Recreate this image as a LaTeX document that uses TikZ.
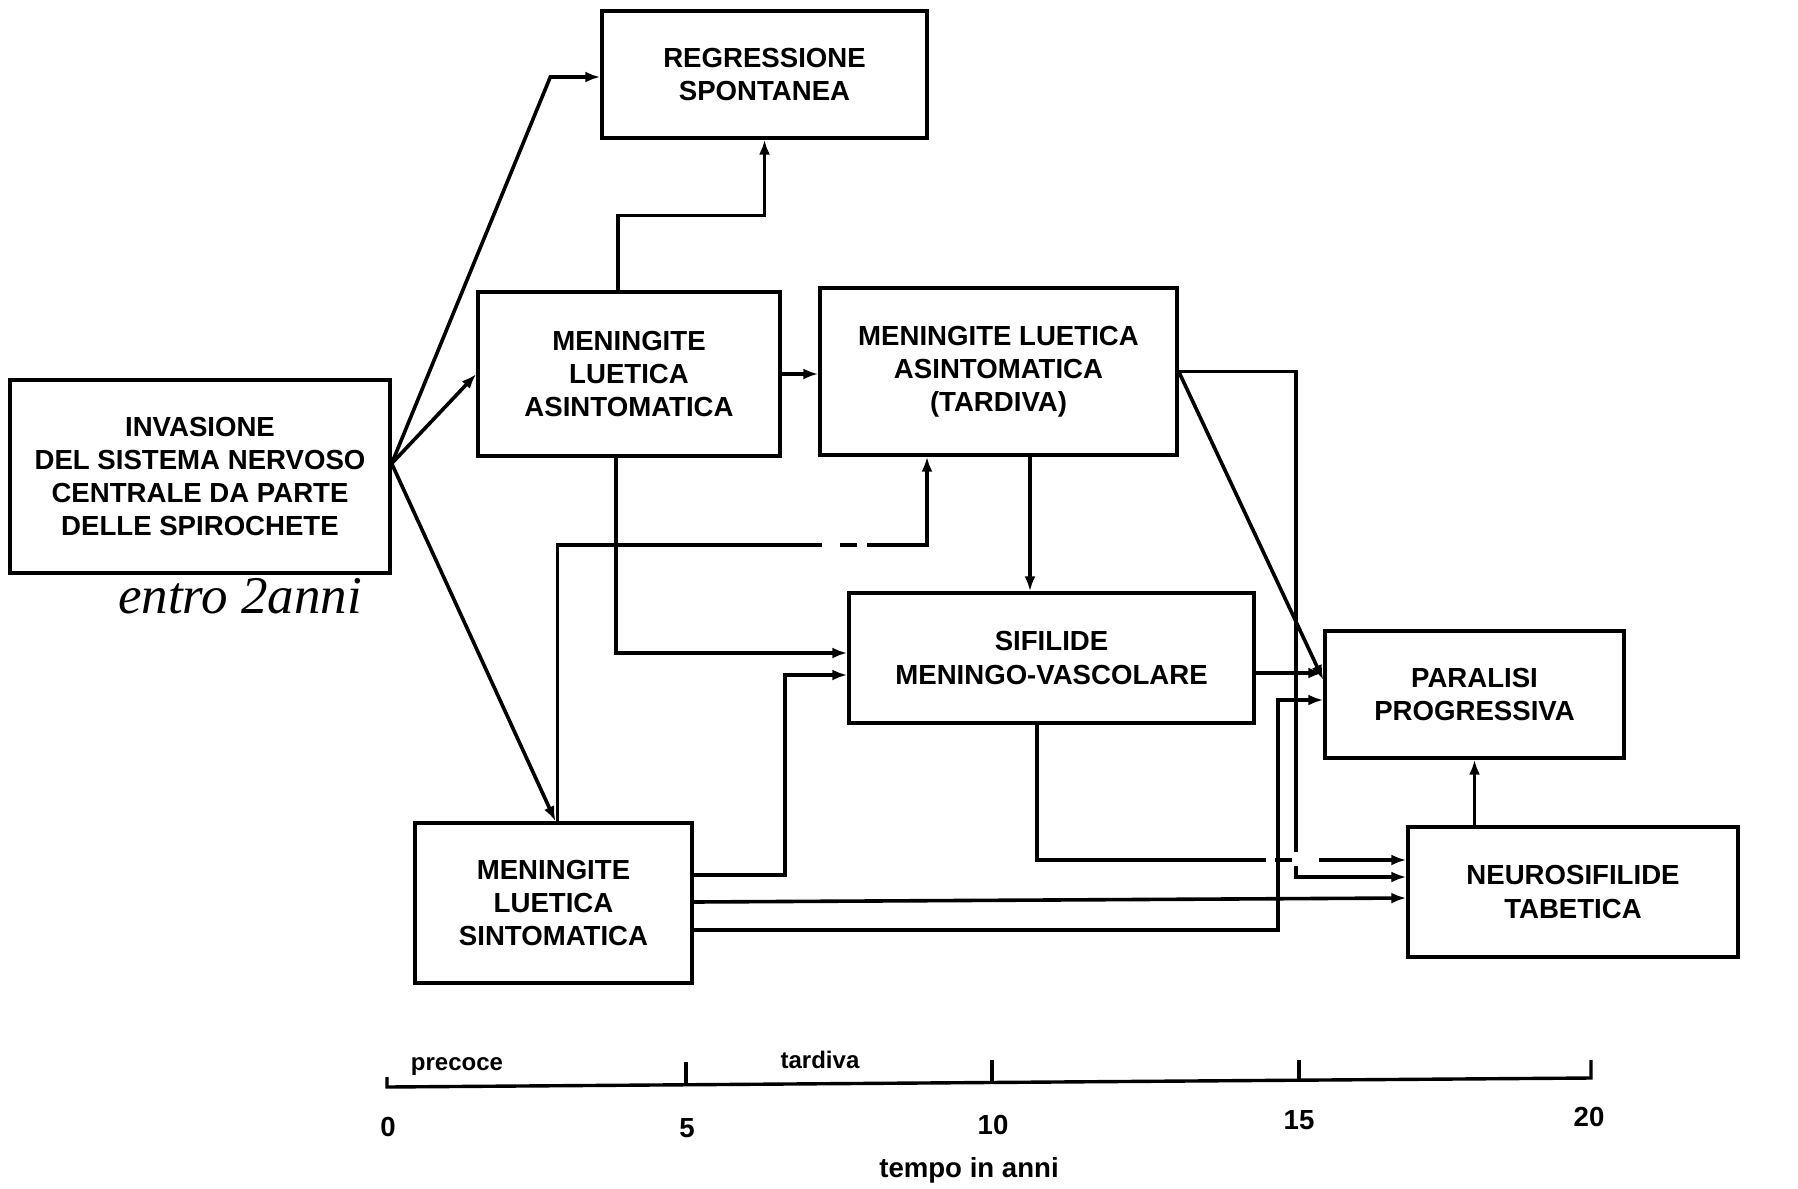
\documentclass[tikz,border=0pt]{standalone}
\usepackage{fontspec}
\setmainfont{Liberation Sans}
\newfontfamily\handfont{Liberation Serif}
\usetikzlibrary{arrows.meta,calc}
\begin{document}
\begin{tikzpicture}[x=0.5pt,y=-0.5pt,
  box/.style={draw, line width=1.7pt, rectangle, inner sep=0pt, align=center,
    font=\fontsize{13.8}{16.6}\selectfont\bfseries},
  conn/.style={line width=1.8pt, -{Latex[length=7.5pt,width=5.5pt]}},
  axis/.style={line width=1.7pt},
  axlab/.style={font=\fontsize{13.8}{15}\selectfont\bfseries, inner sep=0pt},
  small/.style={font=\fontsize{12}{14}\selectfont\bfseries, inner sep=0pt},
  gap/.style={fill=white, draw=none}]
\useasboundingbox[fill=white] (0,0) rectangle (1798,1188);

% boxes
\node[box, minimum width=190pt, minimum height=96.5pt] (inv) at (200,476.5)
  {INVASIONE\\DEL SISTEMA NERVOSO\\CENTRALE DA PARTE\\DELLE SPIROCHETE};
\node[box, minimum width=162.5pt, minimum height=63.5pt] (reg) at (764.5,74.5)
  {REGRESSIONE\\SPONTANEA};
\node[box, minimum width=151pt, minimum height=82pt] (mla) at (629,374)
  {MENINGITE\\LUETICA\\ASINTOMATICA};
\node[box, minimum width=178.5pt, minimum height=83.5pt] (tar) at (998.5,371.5)
  {MENINGITE LUETICA\\ASINTOMATICA\\(TARDIVA)};
\node[box, minimum width=202.5pt, minimum height=65pt] (sif) at (1051.5,658)
  {SIFILIDE\\MENINGO-VASCOLARE};
\node[box, minimum width=149.5pt, minimum height=63.5pt] (par) at (1474.5,694.5)
  {PARALISI\\PROGRESSIVA};
\node[box, minimum width=165pt, minimum height=65pt] (neu) at (1573,892)
  {NEUROSIFILIDE\\TABETICA};
\node[box, minimum width=138.5pt, minimum height=80pt] (mls) at (553.5,903)
  {MENINGITE\\LUETICA\\SINTOMATICA};

\node[font=\handfont\itshape\fontsize{26.5}{30}\selectfont, inner sep=0pt] (hand) at (240,596) {entro 2anni};

% connectors
\coordinate (invo) at ($(inv.east)+(0,-13)$);
\draw[conn] (invo) -- ($(reg.west)+(-50,2.5)$) -- ($(reg.west)+(0,2.5)$);
\draw[conn] (invo) -- (mla.west);
\draw[conn] (invo) -- ($(mls.north)+(2,0)$);
\draw[conn] ($(mla.north)+(-11,0)$) -- ++(0,-75) -| (reg.south);
\draw[conn] (mla.east) -- (mla.east -| tar.west);
\draw[conn] ($(mla.south)+(-13,0)$) |- (sif.west |- 0,653);
\draw[conn] ($(mls.east)+(0,-28)$) -| (785,675) -- (sif.west |- 0,675);
\draw[conn] ($(mls.north)+(4,0)$) |- (927,545) -- (tar.south -| 927,0);
\draw[conn] ($(tar.south)+(31.5,0)$) -- (sif.north -| 1030,0);
\draw[conn] (tar.east) -| (1296,877) -- (neu.west |- 0,877);
\draw[conn] (tar.east) -- ($(par.west)+(0,-14.5)$);
\draw[conn] ($(sif.east)+(0,15)$) -- (par.west |- 0,673);
\draw[conn] ($(mls.east)+(0,-1)$) -- (neu.west |- 0,898);
\draw[conn] ($(mls.east)+(0,27)$) -| (1278,700) -- (par.west |- 0,700);
\draw[conn] ($(sif.south)+(-14.5,0)$) |- (neu.west |- 0,860);
\draw[conn] (par.south |- neu.north) -- (par.south);

% small breaks in the lines
\fill[gap] (822,539) rectangle (840,551);
\fill[gap] (857,539) rectangle (867,551);
\fill[gap] (1266,854) rectangle (1275,866);
\fill[gap] (1292,852) rectangle (1319,866);

% time axis
\coordinate (a0) at (387,1087);
\coordinate (a20) at (1591,1078);
\draw[axis] (387,1077) -- (a0) -- (a20) -- (1591,1060);
\draw[axis] (686,1084.8) -- (686,1062);
\draw[axis] (992,1082.5) -- (992,1060);
\draw[axis] (1299,1080.2) -- (1299,1060);
\node[axlab] (n0) at (388,1127) {0};
\node[axlab] (n5) at (687,1128) {5};
\node[axlab] (n10) at (993,1125) {10};
\node[axlab] (n15) at (1299,1120) {15};
\node[axlab] (n20) at (1589,1117) {20};
\node[small] (pre) at (457,1067) {precoce};
\node[small] (tard) at (820,1060) {tardiva};
\node[axlab] (tempo) at (969,1170) {tempo in anni};
\end{tikzpicture}
\end{document}
